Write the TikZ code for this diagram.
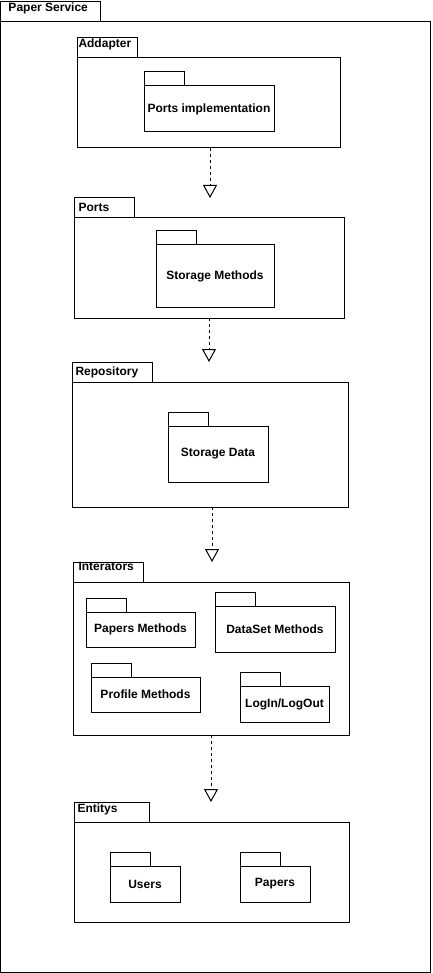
\documentclass[tikz,border=0pt]{standalone}
\usepackage{fontspec}
\setmainfont{Liberation Sans}
\usetikzlibrary{arrows.meta}
\newcommand\pkgtb[6]{% name, x, ytab, tabw, bodyw, bodyh
  \node[shp, minimum width=#4, minimum height=20] (#1T) at (#2,#3) {};
  \node[shp, minimum width=#5, minimum height=#6] (#1B) at (#2,#3+20) {};
}
\newcommand\subpkg[7]{% name, x, ytab, tabw, bodyw, bodyh, text
  \node[shp, minimum width=#4, minimum height=14] (#1T) at (#2,#3) {};
  \node[inn, minimum width=#5, minimum height=#6] (#1B) at (#2,#3+14) {#7};
}
\begin{document}
\begin{tikzpicture}[x=1pt,y=-1pt, line width=1pt,
  shp/.style={draw=black, rectangle, inner sep=0pt, outer sep=0pt, anchor=north west},
  lbl/.style={anchor=base west, inner sep=0pt, font=\bfseries\fontsize{12}{14}\selectfont},
  inn/.style={shp, font=\bfseries\fontsize{12}{14}\selectfont},
  dep/.style={draw=black, dash pattern=on 3pt off 3pt, -{Triangle[open, length=13pt, width=14pt, line width=1pt]}}]
\fill[white] (0,0) rectangle (432,973);
\useasboundingbox (0,0) rectangle (432,973);
% outer package
\pkgtb{ps}{0.5}{2}{100}{430}{950}
\node[lbl] (psL) at (8,12) {Paper Service};
% Addapter
\pkgtb{ad}{77}{38}{60}{263}{90}
\node[lbl] (adL) at (78,48) {Addapter};
\subpkg{pi}{144}{72}{40}{130}{46}{Ports implementation}
% Ports
\pkgtb{po}{74}{198}{60}{270}{100}
\node[lbl] (poL) at (78,212) {Ports};
\subpkg{sm}{156}{231}{40}{118}{62}{Storage Methods}
% Repository
\pkgtb{re}{72}{362}{80}{276}{125}
\node[lbl] (reL) at (75,375) {Repository};
\subpkg{sd}{168}{412}{40}{100}{56}{Storage Data}
% Interators
\pkgtb{it}{73}{562}{70}{276}{153}
\node[lbl] (itL) at (78,570) {Interators};
\subpkg{pm}{86}{598}{40}{109}{35}{Papers Methods}
\subpkg{dm}{215}{592}{40}{120}{46}{DataSet Methods}
\subpkg{prm}{91}{663}{40}{109}{35}{Profile Methods}
\subpkg{ll}{240}{672}{40}{89}{36}{LogIn/LogOut}
% Entitys
\pkgtb{en}{74}{802}{75}{275}{100}
\node[lbl] (enL) at (77,812) {Entitys};
\subpkg{us}{110}{852}{40}{70}{36}{Users}
\subpkg{pa}{240}{852}{40}{70}{36}{Papers}
% dependencies
\coordinate (c1) at (210,0);
\coordinate (c2) at (209,0);
\coordinate (c3) at (212,0);
\coordinate (c4) at (211,0);
\draw[dep] (adB.south -| c1) -- (poT.north -| c1);
\draw[dep] (poB.south -| c2) -- (reT.north -| c2);
\draw[dep] (reB.south -| c3) -- (itT.north -| c3);
\draw[dep] (itB.south -| c4) -- (enT.north -| c4);
\end{tikzpicture}
\end{document}
